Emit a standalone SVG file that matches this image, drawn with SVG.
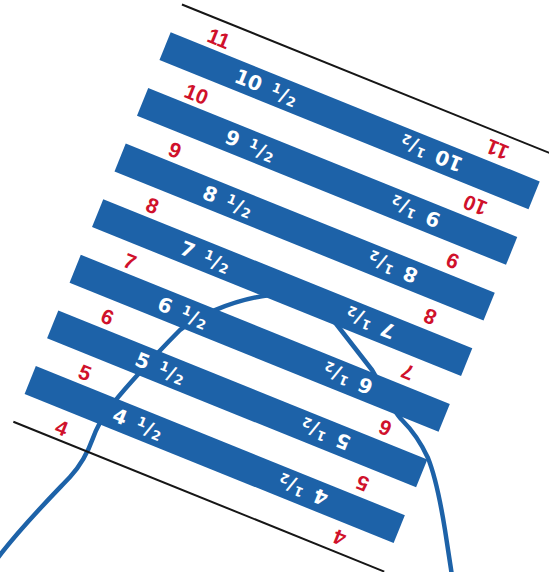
<svg xmlns="http://www.w3.org/2000/svg" width="549" height="572" viewBox="0 0 549 572">
  <style>
    .bar { fill: #1d62a8; }
    .guide { stroke: #161616; stroke-width: 2; fill: none; }
    .curve { stroke: #1d62a8; stroke-width: 4.5; fill: none; stroke-linecap: round; stroke-linejoin: round; }
    .red { font-family: "Liberation Sans", Arial, sans-serif; font-weight: bold; font-size: 21px; fill: #d0112b; text-anchor: middle; }
    .wl { font-family: "DejaVu Sans", "Liberation Sans", sans-serif; font-weight: bold; font-size: 20px; fill: #ffffff; text-anchor: end; }
    .wr { font-family: "DejaVu Sans", "Liberation Sans", sans-serif; font-weight: bold; font-size: 20px; fill: #ffffff; text-anchor: start; }
    .sm { font-size: 13px; }
    .sl { font-size: 19px; }
  </style>
  <rect x="0" y="0" width="549" height="572" fill="#ffffff"/>

  <g id="connectors">
    <path class="curve" d="M -3,559 C 20,528 50,498 70,477 C 82,464 88,452 93,438 C 100,418 115,400 133,380 C 150,361 165,345 180,330 C 195,318 230,300 270,295"/>
    <path class="curve" d="M 330,316 L 372,370 C 385,392 392,410 402,420 C 412,430 422,445 428,458 C 436,478 441,505 445,530 C 448,550 450,562 452,576"/>
  </g>

  <g transform="translate(170.7,32.3) rotate(22)">
    <g id="guides">
      <line class="guide" x1="0" y1="-30" x2="420" y2="-30"/>
      <line class="guide" x1="0" y1="420" x2="400" y2="420"/>
    </g>

    <g id="bar-10-5">
      <rect class="bar" x="0" y="0" width="398" height="30"/>
      <text class="wl" x="142" y="22.3">10 <tspan class="sm" dx="4" dy="-5.6">1</tspan><tspan class="sl" dx="1" dy="5.6">/</tspan><tspan class="sm" dx="1" dy="1.5">2</tspan></text>
      <g transform="translate(320,15) rotate(180)"><text class="wr" x="0" y="7.3">10 <tspan class="sm" dx="4" dy="-5.6">1</tspan><tspan class="sl" dx="1" dy="5.6">/</tspan><tspan class="sm" dx="1" dy="1.5">2</tspan></text></g>
    </g>
    <g id="bar-9-5">
      <rect class="bar" x="0" y="60" width="398" height="30"/>
      <text class="wl" x="142" y="82.3">9 <tspan class="sm" dx="4" dy="-5.6">1</tspan><tspan class="sl" dx="1" dy="5.6">/</tspan><tspan class="sm" dx="1" dy="1.5">2</tspan></text>
      <g transform="translate(320,75) rotate(180)"><text class="wr" x="0" y="7.3">9 <tspan class="sm" dx="4" dy="-5.6">1</tspan><tspan class="sl" dx="1" dy="5.6">/</tspan><tspan class="sm" dx="1" dy="1.5">2</tspan></text></g>
    </g>
    <g id="bar-8-5">
      <rect class="bar" x="0" y="120" width="398" height="30"/>
      <text class="wl" x="142" y="142.3">8 <tspan class="sm" dx="4" dy="-5.6">1</tspan><tspan class="sl" dx="1" dy="5.6">/</tspan><tspan class="sm" dx="1" dy="1.5">2</tspan></text>
      <g transform="translate(320,135) rotate(180)"><text class="wr" x="0" y="7.3">8 <tspan class="sm" dx="4" dy="-5.6">1</tspan><tspan class="sl" dx="1" dy="5.6">/</tspan><tspan class="sm" dx="1" dy="1.5">2</tspan></text></g>
    </g>
    <g id="bar-7-5">
      <rect class="bar" x="0" y="180" width="398" height="30"/>
      <text class="wl" x="142" y="202.3">7 <tspan class="sm" dx="4" dy="-5.6">1</tspan><tspan class="sl" dx="1" dy="5.6">/</tspan><tspan class="sm" dx="1" dy="1.5">2</tspan></text>
      <g transform="translate(320,195) rotate(180)"><text class="wr" x="0" y="7.3">7 <tspan class="sm" dx="4" dy="-5.6">1</tspan><tspan class="sl" dx="1" dy="5.6">/</tspan><tspan class="sm" dx="1" dy="1.5">2</tspan></text></g>
    </g>
    <g id="bar-6-5">
      <rect class="bar" x="0" y="240" width="398" height="30"/>
      <text class="wl" x="142" y="262.3">6 <tspan class="sm" dx="4" dy="-5.6">1</tspan><tspan class="sl" dx="1" dy="5.6">/</tspan><tspan class="sm" dx="1" dy="1.5">2</tspan></text>
      <g transform="translate(320,255) rotate(180)"><text class="wr" x="0" y="7.3">6 <tspan class="sm" dx="4" dy="-5.6">1</tspan><tspan class="sl" dx="1" dy="5.6">/</tspan><tspan class="sm" dx="1" dy="1.5">2</tspan></text></g>
    </g>
    <g id="bar-5-5">
      <rect class="bar" x="0" y="300" width="398" height="30"/>
      <text class="wl" x="142" y="322.3">5 <tspan class="sm" dx="4" dy="-5.6">1</tspan><tspan class="sl" dx="1" dy="5.6">/</tspan><tspan class="sm" dx="1" dy="1.5">2</tspan></text>
      <g transform="translate(320,315) rotate(180)"><text class="wr" x="0" y="7.3">5 <tspan class="sm" dx="4" dy="-5.6">1</tspan><tspan class="sl" dx="1" dy="5.6">/</tspan><tspan class="sm" dx="1" dy="1.5">2</tspan></text></g>
    </g>
    <g id="bar-4-5">
      <rect class="bar" x="0" y="360" width="398" height="30"/>
      <text class="wl" x="142" y="382.3">4 <tspan class="sm" dx="4" dy="-5.6">1</tspan><tspan class="sl" dx="1" dy="5.6">/</tspan><tspan class="sm" dx="1" dy="1.5">2</tspan></text>
      <g transform="translate(320,375) rotate(180)"><text class="wr" x="0" y="7.3">4 <tspan class="sm" dx="4" dy="-5.6">1</tspan><tspan class="sl" dx="1" dy="5.6">/</tspan><tspan class="sm" dx="1" dy="1.5">2</tspan></text></g>
    </g>

    <g id="sizes-left">
      <text class="red" x="47" y="-5">11</text>
      <text class="red" x="47" y="55">10</text>
      <text class="red" x="48" y="115">9</text>
      <text class="red" x="48" y="175">8</text>
      <text class="red" x="48" y="235">7</text>
      <text class="red" x="48" y="295">6</text>
      <text class="red" x="48" y="355">5</text>
      <text class="red" x="47" y="415">4</text>
    </g>
    <g id="sizes-right">
      <g transform="translate(347,-13.5) rotate(180)"><text class="red" x="0" y="7.5">11</text></g>
      <g transform="translate(347,46.5) rotate(180)"><text class="red" x="0" y="7.5">10</text></g>
      <g transform="translate(347,106.5) rotate(180)"><text class="red" x="0" y="7.5">9</text></g>
      <g transform="translate(347,166.5) rotate(180)"><text class="red" x="0" y="7.5">8</text></g>
      <g transform="translate(347,226.5) rotate(180)"><text class="red" x="0" y="7.5">7</text></g>
      <g transform="translate(347,286.5) rotate(180)"><text class="red" x="0" y="7.5">6</text></g>
      <g transform="translate(347,346.5) rotate(180)"><text class="red" x="0" y="7.5">5</text></g>
      <g transform="translate(346,405.5) rotate(180)"><text class="red" x="0" y="7.5">4</text></g>
    </g>
  </g>
</svg>
